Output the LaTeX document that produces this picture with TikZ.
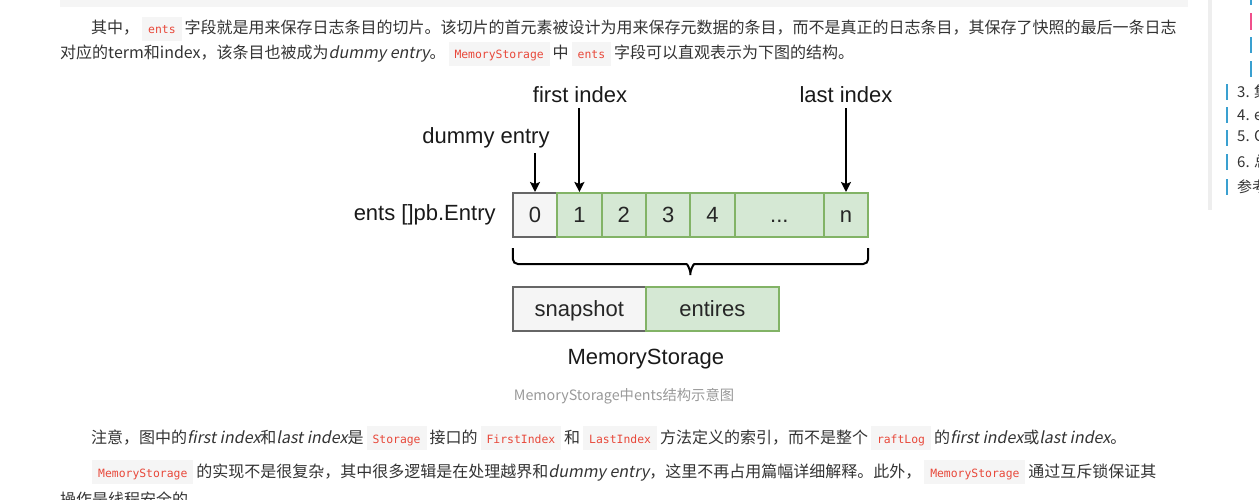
\documentclass[tikz,border=0pt]{standalone}
\usepackage{fontspec}
\setmainfont{Liberation Sans}
\newfontfamily\cjk{Noto Sans CJK SC}
\newfontfamily\cjksl{Noto Sans CJK SC}[FakeSlant=0.2]
\newfontfamily\codefont{DejaVu Sans Mono}
\usepackage{xcolor}
\usetikzlibrary{shapes,arrows.meta,positioning,calc}

\definecolor{txt}{HTML}{333333}
\definecolor{codered}{HTML}{E8483A}
\definecolor{codebg}{HTML}{F5F5F5}
\definecolor{cellgreen}{HTML}{D5E8D4}
\definecolor{linegreen}{HTML}{82B366}
\definecolor{cellgray}{HTML}{F5F5F5}
\definecolor{linegray}{HTML}{666666}
\definecolor{capgray}{HTML}{999999}
\definecolor{sidegray}{HTML}{EEEEEE}
\definecolor{tocblue}{HTML}{3AA0D0}
\definecolor{tocpink}{HTML}{F0508C}

\newcommand{\code}[1]{\hspace{3pt}{\setlength{\fboxsep}{0pt}\colorbox{codebg}{\rule[-7pt]{0pt}{24pt}\hspace{6pt}{\codefont\fontsize{11.4}{14}\selectfont\color{codered}#1}\hspace{6pt}}}\hspace{3pt}}
\newcommand{\emtxt}[1]{{\cjksl #1}}

\begin{document}
\begin{tikzpicture}[x=1pt, y=-1pt,
    cell/.style={draw=linegreen, fill=cellgreen, line width=2pt, minimum height=44pt,
      minimum width=44.4pt, inner sep=0pt, outer sep=0pt, text height=15.75pt, text depth=0pt,
      font=\fontsize{22}{26}\selectfont, text=black!85},
    gcell/.style={cell, draw=linegray, fill=cellgray},
    lbl/.style={font=\fontsize{22}{26}\selectfont, inner sep=2pt, text=black!90},
    ptr/.style={-{Stealth[length=10pt,width=10pt,inset=2pt]}, line width=2pt,
      shorten <=3pt, shorten >=1pt},
    para/.style={anchor=base west, inner sep=0pt, font=\cjk\fontsize{16}{24}\selectfont, text=txt}]
  \useasboundingbox (0,0) rectangle (1259,500);
  \clip (0,0) rectangle (1259,500);

  % Page around the figure
  \fill[codebg] (60,0) rectangle (1188,7);
  \fill[sidegray] (1208,0) rectangle (1212,210);
  \fill[tocblue] (1250,0) rectangle (1252,5);
  \fill[tocpink] (1250,13) rectangle (1252,30);
  \fill[tocblue] (1250,37) rectangle (1252,53);
  \fill[tocblue] (1250,61) rectangle (1252,77);
  \foreach \y/\t in {92/3. 集群, 115/4. entries, 138/5. Compact, 162/6. 总结, 187/参考资料} {
    \fill[tocblue] (1226,\y-8) rectangle (1228,\y+8);
    \node[anchor=west, inner sep=0pt, font=\cjk\fontsize{15}{18}\selectfont, text=txt] at (1237,\y) {\t};
  }

  % Text above
  \node[para] (p1a) at (91,34) {其中，\code{ents}字段就是用来保存日志条目的切片。该切片的首元素被设计为用来保存元数据的条目，而不是真正的日志条目，其保存了快照的最后一条日志};
  \node[para] (p1b) at (60,59) {对应的term和index，该条目也被成为\emtxt{dummy entry}。\code{MemoryStorage}中\code{ents}字段可以直观表示为下图的结构。};

  % Entries
  \node[gcell] (c0) at (535,215) {0};
  \node[cell, right=0pt of c0] (c1) {1};
  \node[cell, right=0pt of c1] (c2) {2};
  \node[cell, right=0pt of c2] (c3) {3};
  \node[cell, right=0pt of c3] (c4) {4};
  \node[cell, minimum width=89pt, right=0pt of c4] (cdots) {{.}{.}{.}};
  \node[cell, right=0pt of cdots] (cn) {n};
  \node[lbl, left=15pt of c0] (ents) {ents []pb.Entry};

  % Pointers
  \node[lbl] (first) at (580,95) {first index};
  \node[lbl] (last) at (846,95) {last index};
  \node[lbl] (dummy) at (486,138) {dummy entry};
  \draw[ptr] (dummy.south -| c0.north) -- (c0.north);
  \draw[ptr] (first.south -| c1.north) -- (c1.north);
  \draw[ptr] (last.south -| cn.north) -- (cn.north);

  % Brace
  \coordinate (bl) at ($(c0.south west)+(0,11)$);
  \coordinate (br) at ($(cn.south east)+(0,11)$);
  \coordinate (bt) at ($(c4.south west)+(0,41)$);
  \draw[line width=2pt, rounded corners=5pt] (bl) |- ($(bt)+(-9,-14)$)
    to[out=0,in=90] (bt) to[out=90,in=180] ($(bt)+(9,-14)$) -| (br);

  % MemoryStorage
  \node[gcell, minimum width=133pt, anchor=north west] (snap) at ($(c0.south west)+(0,50)$) {snapshot};
  \node[cell, minimum width=133pt, right=0pt of snap] (entires) {entires};
  \node[lbl] (mem) at ($(snap.south east)+(0,28)$) {MemoryStorage};
  \node[font=\cjk\fontsize{14.3}{16}\selectfont, text=capgray] (cap) at (624,396) {MemoryStorage中ents结构示意图};

  % Text below
  \node[para] (p2) at (91,443) {注意，图中的\emtxt{first index}和\emtxt{last index}是\code{Storage}接口的\code{FirstIndex}和\code{LastIndex}方法定义的索引，而不是整个\code{raftLog}的\emtxt{first index}或\emtxt{last index}。};
  \node[para] (p3a) at (89,477) {\code{MemoryStorage}的实现不是很复杂，其中很多逻辑是在处理越界和\emtxt{dummy entry}，这里不再占用篇幅详细解释。此外，\code{MemoryStorage}通过互斥锁保证其};
  \node[para] (p3b) at (60,505) {操作是线程安全的。};
\end{tikzpicture}
\end{document}
